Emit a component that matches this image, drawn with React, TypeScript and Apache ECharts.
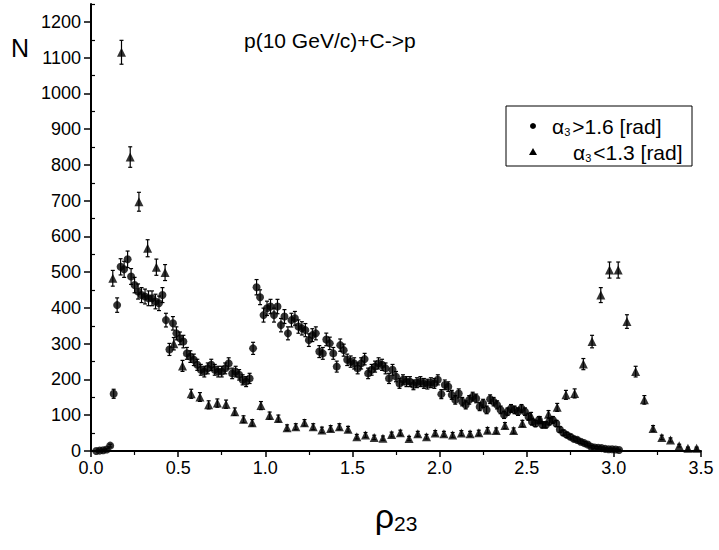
import React, { useEffect, useRef } from 'react';
import * as echarts from 'echarts';

const titleText = 'p(10 GeV/c)+C->p';
const yAxisTitle = 'N';
const xTickValues = [0, 0.5, 1, 1.5, 2, 2.5, 3, 3.5];
const yTickValues = [0, 100, 200, 300, 400, 500, 600, 700, 800, 900, 1000, 1100, 1200];
const yMinorValues = [50, 150, 250, 350, 450, 550, 650, 750, 850, 950, 1050, 1150, 1250];
const seriesNames = ['α3>1.6 [rad]', 'α3<1.3 [rad]'];

// alpha3 > 1.6 rad (circles): [rho23, N]
const circleData: [number, number][] = [
  [0.03, 0], [0.05, 1], [0.07, 2], [0.09, 4], [0.11, 15], [0.13, 160], [0.15, 408], [0.17, 515],
  [0.19, 508], [0.21, 536], [0.23, 488], [0.25, 464], [0.27, 446], [0.29, 436], [0.31, 432], [0.33, 427],
  [0.35, 427], [0.37, 418], [0.39, 413], [0.41, 436], [0.43, 366], [0.45, 284], [0.47, 357], [0.49, 329],
  [0.51, 315], [0.53, 306], [0.55, 273], [0.57, 264], [0.59, 255], [0.61, 241], [0.63, 227], [0.65, 222],
  [0.67, 231], [0.69, 241], [0.71, 227], [0.73, 222], [0.75, 222], [0.77, 231], [0.79, 245], [0.81, 217],
  [0.83, 222], [0.85, 213], [0.87, 199], [0.89, 194], [0.91, 203], [0.93, 287], [0.95, 458], [0.97, 430],
  [0.99, 380], [1.01, 399], [1.03, 404], [1.05, 380], [1.07, 404], [1.09, 352], [1.11, 376], [1.13, 329],
  [1.15, 366], [1.17, 371], [1.19, 348], [1.21, 343], [1.23, 338], [1.25, 310], [1.27, 324], [1.29, 329],
  [1.31, 278], [1.33, 273], [1.35, 312], [1.37, 301], [1.39, 273], [1.41, 236], [1.43, 296], [1.45, 282],
  [1.47, 255], [1.49, 250], [1.51, 245], [1.53, 231], [1.55, 245], [1.57, 257], [1.59, 217], [1.61, 227],
  [1.63, 236], [1.65, 245], [1.67, 241], [1.69, 231], [1.71, 203], [1.73, 227], [1.75, 208], [1.77, 189],
  [1.79, 199], [1.81, 194], [1.83, 194], [1.85, 185], [1.87, 191], [1.89, 194], [1.91, 189], [1.93, 187],
  [1.95, 191], [1.97, 189], [1.99, 199], [2.01, 159], [2.03, 185], [2.05, 180], [2.07, 157], [2.09, 143],
  [2.11, 161], [2.13, 138], [2.15, 129], [2.17, 143], [2.19, 152], [2.21, 147], [2.23, 124], [2.25, 133],
  [2.27, 115], [2.29, 145], [2.31, 138], [2.33, 129], [2.35, 115], [2.37, 101], [2.39, 110], [2.41, 119],
  [2.43, 115], [2.45, 110], [2.47, 119], [2.49, 110], [2.51, 96], [2.53, 82], [2.55, 77], [2.57, 87],
  [2.59, 73], [2.61, 73], [2.63, 82], [2.65, 87], [2.67, 77], [2.69, 60], [2.71, 51], [2.73, 45],
  [2.75, 40], [2.77, 34], [2.79, 31], [2.81, 26], [2.83, 22], [2.85, 18], [2.87, 12], [2.89, 10],
  [2.91, 9], [2.93, 8], [2.95, 6], [2.97, 5], [2.99, 5], [3.01, 4], [3.03, 3],
];

// alpha3 < 1.3 rad (triangles): [rho23, N]
const triangleData: [number, number][] = [
  [0.125, 483], [0.175, 1115], [0.225, 822], [0.275, 697], [0.325, 567], [0.375, 514], [0.425, 499],
  [0.475, 300], [0.525, 238], [0.575, 160], [0.625, 151], [0.675, 129], [0.725, 134], [0.775, 131],
  [0.825, 110], [0.875, 89], [0.925, 79], [0.975, 127], [1.025, 99], [1.075, 91], [1.125, 65],
  [1.175, 68], [1.225, 79], [1.275, 68], [1.325, 59], [1.375, 63], [1.425, 68], [1.475, 61],
  [1.525, 40], [1.575, 45], [1.625, 38], [1.675, 36], [1.725, 46], [1.775, 51], [1.825, 35],
  [1.875, 48], [1.925, 40], [1.975, 50], [2.025, 48], [2.075, 45], [2.125, 50], [2.175, 48],
  [2.225, 51], [2.275, 58], [2.325, 57], [2.375, 71], [2.425, 57], [2.475, 77], [2.525, 98],
  [2.575, 87], [2.625, 103], [2.675, 122], [2.725, 157], [2.775, 161], [2.825, 243], [2.875, 306],
  [2.925, 436], [2.975, 506], [3.025, 506], [3.075, 362], [3.125, 222], [3.175, 143], [3.225, 63],
  [3.275, 38], [3.325, 31], [3.375, 15], [3.425, 8], [3.475, 8],
];

const FONT = '"Liberation Sans", Arial, Helvetica, sans-serif';
const NARROW = '"Liberation Sans Narrow", "Arial Narrow", "Liberation Sans", Arial, sans-serif';

function errorBars(data: [number, number][], name: string) {
  return {
    type: 'custom',
    name,
    xAxisIndex: 0,
    yAxisIndex: 0,
    silent: true,
    z: 2,
    data: data.map(([x, y]) => [x, y, Math.sqrt(y)]),
    encode: { x: 0, y: 1 },
    renderItem: (_params: any, api: any) => {
      const x = api.value(0);
      const y = api.value(1);
      const e = api.value(2);
      const top = api.coord([x, y + e]);
      const bot = api.coord([x, Math.max(0, y - e)]);
      const cap = 2;
      const st = { stroke: '#000', lineWidth: 1.2 };
      return {
        type: 'group',
        children: [
          { type: 'line', shape: { x1: top[0], y1: top[1], x2: bot[0], y2: bot[1] }, style: st },
          { type: 'line', shape: { x1: top[0] - cap, y1: top[1], x2: top[0] + cap, y2: top[1] }, style: st },
          { type: 'line', shape: { x1: bot[0] - cap, y1: bot[1], x2: bot[0] + cap, y2: bot[1] }, style: st },
        ],
      };
    },
  };
}

export default function App() {
  const ref = useRef<HTMLDivElement>(null);
  useEffect(() => {
    document.body.style.margin = '0';
    if (!ref.current) return;
    const chart = echarts.init(ref.current, undefined, { renderer: 'svg' });
    const legendRich = {
      a: { fontSize: 21, fontFamily: FONT, color: '#000' },
      s: { fontSize: 11, fontFamily: FONT, color: '#000', verticalAlign: 'bottom', padding: [12, 2, 0, 0] },
    };
    const splitName = (n: string) => '{a|' + n.slice(0, 1) + '}{s|' + n.slice(1, 2) + '}{a|' + n.slice(2) + '}';
    chart.setOption({
      animation: false,
      backgroundColor: '#fff',
      grid: { left: 91, right: 18, top: 4, bottom: 99, containLabel: false },
      xAxis: {
        type: 'value',
        min: 0,
        max: 3.5,
        interval: 0.5,
        axisLine: { show: true, onZero: false, lineStyle: { color: '#000', width: 2 } },
        axisTick: { show: true, length: 6, lineStyle: { color: '#000', width: 1.5 } },
        minorTick: { show: true, splitNumber: 2, length: 4, lineStyle: { color: '#000', width: 1.2 } },
        splitLine: { show: false },
        axisLabel: {
          color: '#000', fontSize: 18, fontFamily: NARROW, margin: 8,
          customValues: xTickValues,
          formatter: (v: number) => v.toFixed(1),
        },
        name: '{r|ρ}{s|23}',
        nameLocation: 'middle',
        nameGap: 46,
        nameTextStyle: {
          rich: {
            r: { fontSize: 34, fontFamily: FONT, color: '#000' },
            s: { fontSize: 21, fontFamily: NARROW, color: '#000', verticalAlign: 'bottom', padding: [16, 0, 0, 0] },
          },
        },
      },
      yAxis: [
        {
          type: 'value',
          position: 'left',
          min: 0,
          max: 1250,
          interval: 50,
          axisLine: { show: true, onZero: false, lineStyle: { color: '#000', width: 2 } },
          axisTick: { show: true, length: 7, customValues: yTickValues, lineStyle: { color: '#000', width: 1.5 } },
          splitLine: { show: false },
          axisLabel: {
            color: '#000', fontSize: 18, fontFamily: NARROW, margin: 10,
            customValues: yTickValues,
            formatter: (v: number) => String(v),
          },
        },
        {
          type: 'value',
          position: 'left',
          min: 0,
          max: 1250,
          interval: 50,
          axisLine: { show: false },
          axisTick: { show: true, inside: true, length: 4, customValues: yMinorValues, lineStyle: { color: '#000', width: 1.2 } },
          splitLine: { show: false },
          axisLabel: { show: false },
        },
      ],
      series: [
        errorBars(circleData, seriesNames[0]),
        {
          type: 'scatter', name: seriesNames[0], data: circleData, symbol: 'circle', symbolSize: 8,
          itemStyle: { color: '#000' }, z: 3, silent: true,
        },
        errorBars(triangleData, seriesNames[1]),
        {
          type: 'scatter', name: seriesNames[1], data: triangleData, symbol: 'triangle', symbolSize: [9, 9],
          itemStyle: { color: '#000' }, z: 3, silent: true,
        },
      ],
      graphic: [
        { type: 'text', left: 244, top: 30, style: { text: titleText, fontSize: 21, fontFamily: FONT, fill: '#000' } },
        { type: 'text', left: 11, top: 35, style: { text: yAxisTitle, fontSize: 25, fontFamily: FONT, fill: '#000' } },
        { type: 'rect', shape: { x: 506, y: 106, width: 186, height: 60 }, style: { fill: 'none', stroke: '#000', lineWidth: 1 } },
        { type: 'circle', shape: { cx: 533, cy: 126, r: 3 }, style: { fill: '#000' } },
        { type: 'polygon', shape: { points: [[529, 155], [537, 155], [533, 148]] }, style: { fill: '#000' } },
        { type: 'text', x: 552, y: 126, style: { text: splitName(seriesNames[0]), rich: legendRich, verticalAlign: 'middle', fill: '#000' } },
        { type: 'text', x: 573, y: 152, style: { text: splitName(seriesNames[1]), rich: legendRich, verticalAlign: 'middle', fill: '#000' } },
      ],
    });
    return () => chart.dispose();
  }, []);
  return <div ref={ref} style={{ width: 719, height: 550 }} />;
}
